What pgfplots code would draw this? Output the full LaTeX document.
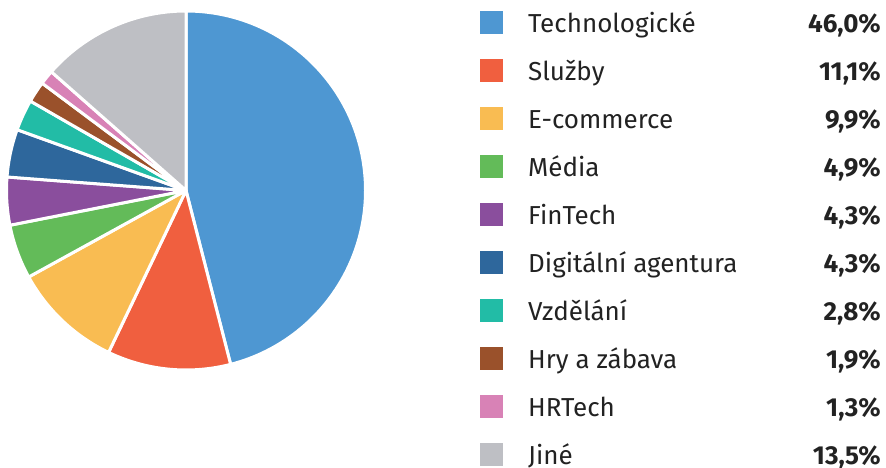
\documentclass[border=0pt]{standalone}
\usepackage{fontspec}
\setmainfont{Fira Sans}
\usepackage{pgfplots}
\usepackage{pgfplotstable}
\pgfplotsset{compat=1.18}

\definecolor{cTech}{HTML}{4E97D2}
\definecolor{cSluz}{HTML}{F05F3F}
\definecolor{cEcom}{HTML}{F9BC52}
\definecolor{cMedia}{HTML}{63BB59}
\definecolor{cFin}{HTML}{8A4E9D}
\definecolor{cDig}{HTML}{2E679C}
\definecolor{cEdu}{HTML}{22BCA6}
\definecolor{cHry}{HTML}{9A512B}
\definecolor{cHR}{HTML}{D882B6}
\definecolor{cJine}{HTML}{BEBFC4}
\definecolor{txt}{HTML}{222222}

\pgfplotstableread[col sep=comma]{
name,val,col
Technologické,46.0,cTech
Služby,11.1,cSluz
E-commerce,9.9,cEcom
Média,4.9,cMedia
FinTech,4.3,cFin
Digitální agentura,4.3,cDig
Vzdělání,2.8,cEdu
Hry a zábava,1.9,cHry
HRTech,1.3,cHR
Jiné,13.5,cJine
}\piedata
% running total, so each wedge knows where it ends
\pgfplotstablecreatecol[create col/expr accum={\pgfmathaccuma + \thisrow{val}}{0}]{cum}\piedata

\begin{document}
\begin{tikzpicture}
\begin{axis}[
  x=1pt, y=1pt, scale only axis,
  xmin=0, xmax=886, ymin=0, ymax=467,
  hide axis, clip=false,
]
\coordinate (bl) at (axis cs:0,0);
\coordinate (tr) at (axis cs:886,467);
\pgfplotsforeachungrouped \i in {0,...,9}{
  \pgfplotstablegetelem{\i}{val}\of\piedata \let\v\pgfplotsretval
  \pgfplotstablegetelem{\i}{cum}\of\piedata \let\c\pgfplotsretval
  \pgfplotstablegetelem{\i}{col}\of\piedata \let\cl\pgfplotsretval
  \pgfplotstablegetelem{\i}{name}\of\piedata \let\nm\pgfplotsretval
  \pgfmathsetmacro\aend{90-3.6*\c}
  \pgfmathsetmacro\astart{\aend+3.6*\v}
  \pgfmathprintnumberto[fixed,precision=1,fixed zerofill,use comma,assume math mode=true]{\v}\pct
  \pgfmathsetmacro\ry{467-22.5-48*\i}
  \pgfmathsetmacro\by{467-32.3-48*\i}
  \edef\temp{%
    \noexpand\fill[\cl, draw=white, line width=3pt, line join=round]
      (axis cs:186,276.5) -- ++(\astart:179.5pt)
      arc[start angle=\astart, end angle=\aend, radius=179.5pt] -- cycle;
    \noexpand\fill[\cl] (axis cs:480,\ry-11.5) rectangle (axis cs:503,\ry+11.5);
    \noexpand\node[anchor=base west, inner sep=0pt, text=txt,
      font=\noexpand\fontsize{26}{30}\noexpand\selectfont] at (axis cs:528,\by) {\nm};
    \noexpand\node[anchor=base east, inner sep=0pt, text=txt,
      font=\noexpand\fontsize{26}{30}\noexpand\selectfont\noexpand\bfseries]
      at (axis cs:881,\by) {\pct\noexpand\%};
  }%
  \temp
}
\end{axis}
\pgfresetboundingbox
\path[use as bounding box] (bl) rectangle (tr);
\end{tikzpicture}
\end{document}
